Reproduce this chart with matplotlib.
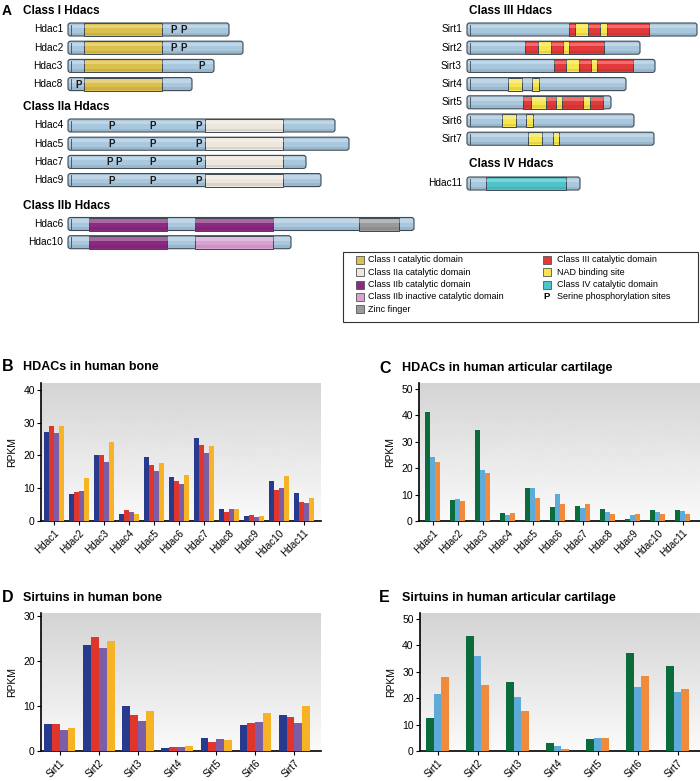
import numpy as np
import matplotlib
matplotlib.use("Agg")
import matplotlib.pyplot as plt
from matplotlib.patches import Rectangle, FancyBboxPatch

plt.rcParams['font.family'] = ['Liberation Sans', 'DejaVu Sans']

# ---------------- Panel A data (schematic lengths / domain positions) ----------------
c1_names = ["Hdac1", "Hdac2", "Hdac3", "Hdac8"]
c1_len = [161, 175, 146, 124]
c1_dom = [(16, 94)] * 4
c1_p = [[106, 116], [106, 116], [134], [11]]

c2a_names = ["Hdac4", "Hdac5", "Hdac7", "Hdac9"]
c2a_len = [267, 281, 238, 253]
c2a_dom = [(137, 215)] * 4
c2a_p = [[44, 85, 131], [44, 85, 131], [42, 51, 85, 131], [44, 85, 131]]

c2b_names = ["Hdac6", "Hdac10"]
c2b_len = [346, 223]
c2b_act = [[(21, 99), (127, 205)], [(21, 99)]]
c2b_inact = [[], [(127, 205)]]
c2b_zinc = [[(291, 331)], []]

c3_names = ["Sirt1", "Sirt2", "Sirt3", "Sirt4", "Sirt5", "Sirt6", "Sirt7"]
c3_len = [230, 173, 188, 159, 144, 167, 187]
c3_dom = [[(102, 182)], [(58, 137)], [(87, 166)], [], [(56, 136)], [], []]
c3_nad = [[(108, 121), (133, 140)], [(71, 84), (96, 102)], [(99, 112), (124, 130)],
          [(41, 55), (65, 72)], [(64, 79), (89, 95), (116, 123)],
          [(35, 49), (59, 66)], [(61, 75), (86, 92)]]

c4_names = ["Hdac11"]
c4_len = [113]
c4_dom = [(19, 99)]

# ---------------- Panels B-E data (RPKM) ----------------
hdacs = ["Hdac1", "Hdac2", "Hdac3", "Hdac4", "Hdac5", "Hdac6", "Hdac7",
         "Hdac8", "Hdac9", "Hdac10", "Hdac11"]
sirts = ["Sirt1", "Sirt2", "Sirt3", "Sirt4", "Sirt5", "Sirt6", "Sirt7"]

bone_hdac = [
    [27.1, 8.3, 20.2, 2.1, 19.5, 13.4, 25.4, 3.7, 1.4, 12.2, 8.4],
    [29.0, 8.9, 20.2, 3.3, 17.1, 12.2, 23.1, 2.7, 1.7, 9.4, 5.9],
    [26.7, 9.1, 17.9, 2.7, 15.3, 11.4, 20.8, 3.6, 1.1, 10.0, 5.6],
    [29.0, 13.0, 24.0, 2.2, 17.7, 14.0, 22.9, 3.6, 1.6, 13.7, 6.9],
]
cart_hdac = [
    [41.4, 8.0, 34.6, 3.0, 12.6, 5.3, 5.7, 4.5, 0.8, 4.2, 4.3],
    [24.2, 8.3, 19.4, 2.3, 12.4, 10.4, 4.8, 3.4, 2.3, 3.3, 3.7],
    [22.5, 7.6, 18.1, 2.9, 8.7, 6.4, 6.4, 2.8, 2.7, 2.5, 2.8],
]
bone_sirt = [
    [6.1, 23.5, 9.9, 0.7, 2.8, 5.8, 7.9],
    [5.9, 25.3, 8.1, 1.0, 2.0, 6.3, 7.6],
    [4.7, 23.0, 6.7, 0.8, 2.6, 6.5, 6.2],
    [5.2, 24.4, 9.0, 1.2, 2.4, 8.4, 9.9],
]
cart_sirt = [
    [12.4, 43.6, 26.3, 2.9, 4.5, 37.0, 32.1],
    [21.7, 36.0, 20.3, 1.8, 4.9, 24.2, 22.5],
    [28.2, 24.9, 15.3, 0.6, 4.9, 28.4, 23.5],
]

bone_colors = ["#283a8e", "#e0352b", "#7d5da6", "#f5b325"]
cart_colors = ["#0b6b3a", "#5eaad9", "#f08a3c"]

col = {
    "base": "#a9c7dd", "c1": "#dcc04e", "c2a": "#ede7dd", "c2b": "#8a2a80",
    "c2bi": "#d8a3d2", "zinc": "#9a9a9a", "c3": "#e23a3a", "nad": "#f8e64e",
    "c4": "#4fc3ca",
}

fig = plt.figure(figsize=(7.0, 7.81), dpi=100)

# ---------------- Panel A ----------------
axA = fig.add_axes([0, 0, 1, 1])
axA.set_xlim(0, 700)
axA.set_ylim(781, 0)
axA.axis('off')

bar_h = 13


def seg(x0, y, a, b, color):
    axA.add_patch(Rectangle((x0 + a, y - bar_h / 2), b - a, bar_h, facecolor=color,
                            edgecolor="#3d4a55", lw=0.7, zorder=3))


def gloss(x0, y, length):
    # soft highlight on upper part, shade on lower part
    axA.add_patch(Rectangle((x0 + 1, y - bar_h / 2 + 1.5), length - 2, 3.5, facecolor="white",
                            edgecolor="none", alpha=0.28, zorder=3.5))
    axA.add_patch(Rectangle((x0 + 1, y + bar_h / 2 - 3.5), length - 2, 2.5, facecolor="black",
                            edgecolor="none", alpha=0.08, zorder=3.5))


def protein(x0, y, name, length, label_x):
    axA.add_patch(FancyBboxPatch((x0, y - bar_h / 2), length, bar_h,
                                 boxstyle="round,pad=0,rounding_size=2.5",
                                 facecolor=col["base"], edgecolor="#3d4a55", lw=0.8, zorder=2))
    axA.plot([x0 + 3, x0 + 3], [y - bar_h / 2 + 1.5, y + bar_h / 2 - 1.5],
             color="#3d4a55", lw=0.6, zorder=4)
    axA.text(label_x, y, name, ha='right', va='center', fontsize=7.3)


def ptext(x0, y, sites):
    for s in sites:
        axA.text(x0 + s, y + 0.5, "P", ha='center', va='center', fontsize=7,
                 fontweight='bold', color="#1a1a1a", zorder=5)


left_x0 = 68
right_x0 = 467
step = 18.2

axA.text(2, 11, "A", fontsize=10, fontweight='bold', va='center')
axA.text(23, 11, "Class I Hdacs", fontsize=8.5, fontweight='bold', va='center')
for i, n in enumerate(c1_names):
    y = 29.5 + i * step
    protein(left_x0, y, n, c1_len[i], 63)
    seg(left_x0, y, c1_dom[i][0], c1_dom[i][1], col["c1"])
    gloss(left_x0, y, c1_len[i])
    ptext(left_x0, y, c1_p[i])

axA.text(23, 107, "Class IIa Hdacs", fontsize=8.5, fontweight='bold', va='center')
for i, n in enumerate(c2a_names):
    y = 125.5 + i * step
    protein(left_x0, y, n, c2a_len[i], 63)
    seg(left_x0, y, c2a_dom[i][0], c2a_dom[i][1], col["c2a"])
    gloss(left_x0, y, c2a_len[i])
    ptext(left_x0, y, c2a_p[i])

axA.text(23, 206, "Class IIb Hdacs", fontsize=8.5, fontweight='bold', va='center')
for i, n in enumerate(c2b_names):
    y = 224 + i * step
    protein(left_x0, y, n, c2b_len[i], 63)
    for a, b in c2b_act[i]:
        seg(left_x0, y, a, b, col["c2b"])
    for a, b in c2b_inact[i]:
        seg(left_x0, y, a, b, col["c2bi"])
    for a, b in c2b_zinc[i]:
        seg(left_x0, y, a, b, col["zinc"])
    gloss(left_x0, y, c2b_len[i])

axA.text(469, 11, "Class III Hdacs", fontsize=8.5, fontweight='bold', va='center')
for i, n in enumerate(c3_names):
    y = 29.5 + i * step
    protein(right_x0, y, n, c3_len[i], 462)
    for a, b in c3_dom[i]:
        seg(right_x0, y, a, b, col["c3"])
    for a, b in c3_nad[i]:
        seg(right_x0, y, a, b, col["nad"])
    gloss(right_x0, y, c3_len[i])

axA.text(469, 164, "Class IV Hdacs", fontsize=8.5, fontweight='bold', va='center')
for i, n in enumerate(c4_names):
    y = 183.5 + i * step
    protein(right_x0, y, n, c4_len[i], 462)
    seg(right_x0, y, c4_dom[i][0], c4_dom[i][1], col["c4"])
    gloss(right_x0, y, c4_len[i])

# legend box
axA.add_patch(Rectangle((343, 252), 355, 70, facecolor="white", edgecolor="#333333", lw=0.8))
leg_left = [("c1", "Class I catalytic domain"), ("c2a", "Class IIa catalytic domain"),
            ("c2b", "Class IIb catalytic domain"), ("c2bi", "Class IIb inactive catalytic domain"),
            ("zinc", "Zinc finger")]
leg_right = [("c3", "Class III catalytic domain"), ("nad", "NAD binding site"),
             ("c4", "Class IV catalytic domain"), ("P", "Serine phosphorylation sites")]
for j, (k, t) in enumerate(leg_left):
    y = 260 + j * 12.3
    axA.add_patch(Rectangle((356, y - 4), 8, 8, facecolor=col[k], edgecolor="#555555", lw=0.6))
    axA.text(368, y, t, fontsize=6.5, va='center')
for j, (k, t) in enumerate(leg_right):
    y = 260 + j * 12.3
    if k == "P":
        axA.text(547, y, "P", fontsize=6.8, fontweight='bold', va='center', ha='center')
    else:
        axA.add_patch(Rectangle((543, y - 4), 8, 8, facecolor=col[k], edgecolor="#555555", lw=0.6))
    axA.text(557, y, t, fontsize=6.5, va='center')


# ---------------- Bar panels ----------------
W, H = 700.0, 781.0


def bar_panel(rect_px, letter, letter_x, title, title_x, title_y, cats, series, colors,
              ymax, yticks, xlim, bw):
    l, t, r, b = rect_px
    ax = fig.add_axes([l / W, 1 - b / H, (r - l) / W, (b - t) / H])
    x = np.arange(len(cats))
    n = len(series)
    for k, vals in enumerate(series):
        ax.bar(x + (k - (n - 1) / 2) * bw, vals, width=bw, color=colors[k], zorder=3)
    ax.set_xlim(*xlim)
    ax.set_ylim(0, ymax)
    grad = np.linspace(0.98, 0.83, 200).reshape(-1, 1)
    ax.imshow(grad, extent=[xlim[0], xlim[1], 0, ymax], aspect='auto', cmap='gray',
              vmin=0, vmax=1, origin='lower', zorder=0)
    ax.set_xticks(x)
    ax.set_xticklabels(cats, rotation=45, ha='right', rotation_mode='anchor', fontsize=7.2)
    ax.set_yticks(yticks)
    ax.tick_params(axis='y', labelsize=7.5, length=3, width=0.8, pad=1.5)
    ax.tick_params(axis='x', length=3, width=0.8, pad=2)
    for s in ['top', 'right']:
        ax.spines[s].set_visible(False)
    ax.spines['left'].set_linewidth(1.2)
    ax.spines['bottom'].set_linewidth(1.2)
    ax.set_ylabel("RPKM", fontsize=7.5, labelpad=4)
    fig.text(letter_x / W, 1 - title_y / H, letter, fontsize=11.5, fontweight='bold', va='center')
    fig.text(title_x / W, 1 - title_y / H, title, fontsize=9, fontweight='bold', va='center')
    return ax


bar_panel((41, 383, 321, 521), "B", 2, "HDACs in human bone", 23, 367,
          hdacs, bone_hdac, bone_colors, 42.1, [0, 10, 20, 30, 40], (-0.53, 10.69), 0.2)
bar_panel((419, 383, 700, 521), "C", 379, "HDACs in human articular cartilage", 402, 368,
          hdacs, cart_hdac, cart_colors, 52.3, [0, 10, 20, 30, 40, 50], (-0.54, 10.7), 0.2)
bar_panel((41, 613, 321, 751), "D", 2, "Sirtuins in human bone", 23, 598,
          sirts, bone_sirt, bone_colors, 30.7, [0, 10, 20, 30], (-0.48, 6.68), 0.2)
bar_panel((420, 613, 700, 751), "E", 379, "Sirtuins in human articular cartilage", 402, 598,
          sirts, cart_sirt, cart_colors, 52.3, [0, 10, 20, 30, 40, 50], (-0.44, 6.56), 0.19)

fig.savefig("out.png", dpi=100)
